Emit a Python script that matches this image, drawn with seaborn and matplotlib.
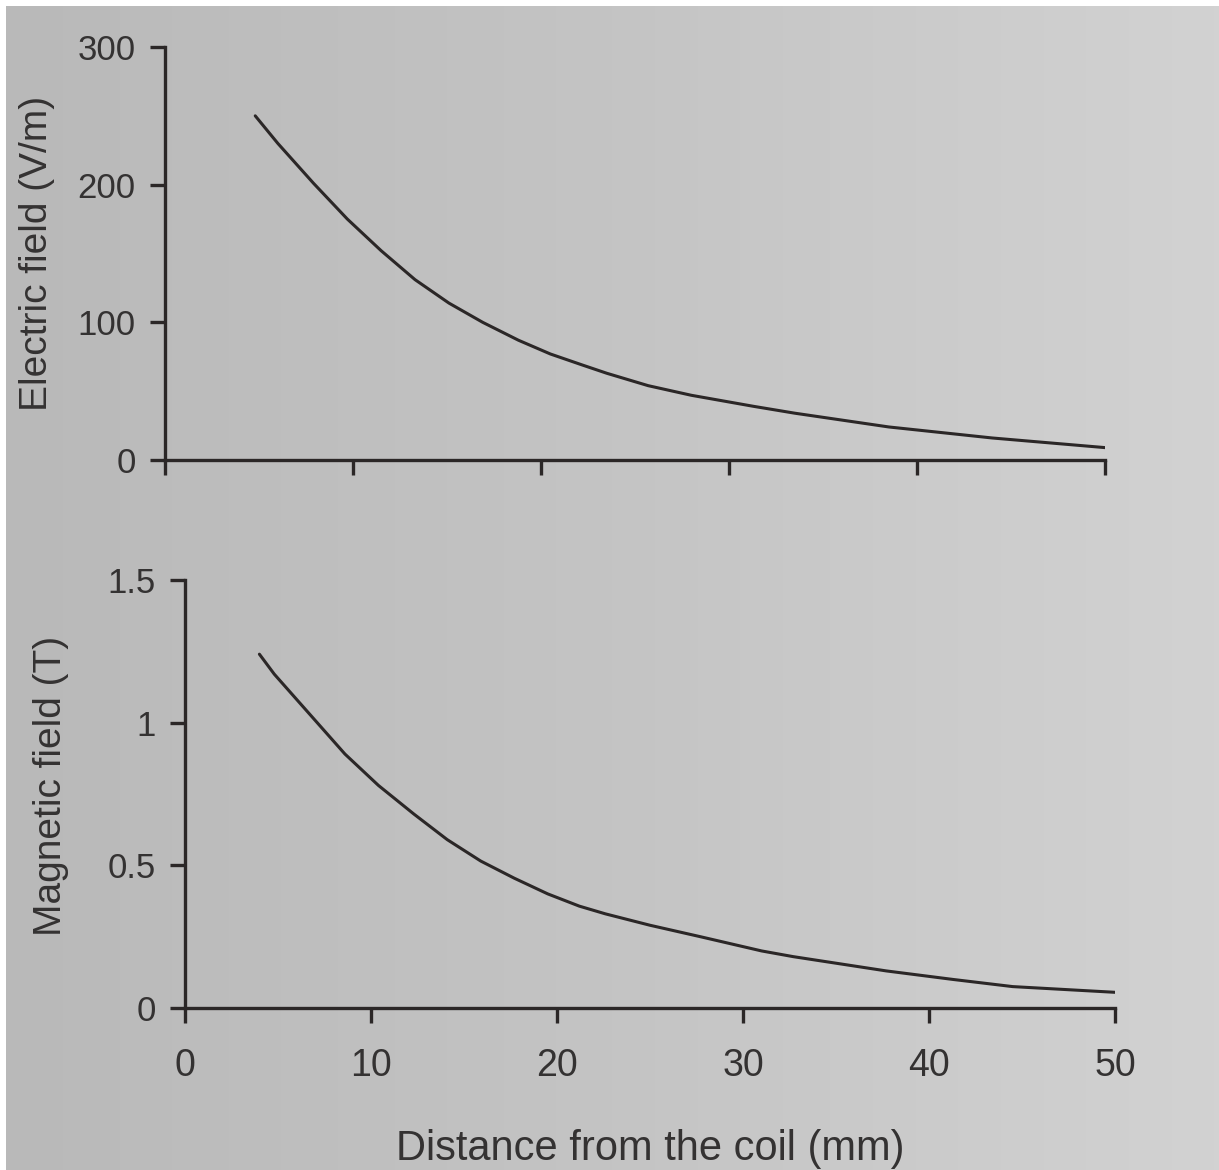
import numpy as np
import pandas as pd
import matplotlib
matplotlib.use("Agg")
import matplotlib.pyplot as plt
from matplotlib.colors import LinearSegmentedColormap
import seaborn as sns

# Electric field (V/m) versus distance from the coil (mm)
e_distance = [4.8, 6.0, 7.9, 9.7, 11.5, 13.3, 15.1, 16.9, 18.8, 20.5, 22.2, 23.5,
              25.7, 28.0, 31.3, 33.5, 38.5, 44.0, 50.0]
e_field = [250, 230, 201, 175, 152, 131, 114, 100, 87, 77, 69, 63,
           54, 47, 39, 34, 24, 16, 9]

# Magnetic field (T) versus distance from the coil (mm)
b_distance = [4.0, 4.8, 6.7, 8.6, 10.4, 12.3, 14.1, 15.9, 17.7, 19.5, 21.2, 22.6,
              25.0, 27.7, 31.0, 32.7, 37.7, 41.3, 44.5, 50.0]
b_field = [1.24, 1.17, 1.03, 0.89, 0.78, 0.68, 0.59, 0.515, 0.455, 0.40, 0.357, 0.33,
           0.29, 0.25, 0.20, 0.18, 0.13, 0.10, 0.075, 0.055]

x_ticks = [0, 10, 20, 30, 40, 50]
e_ticks = [0, 100, 200, 300]
b_ticks = [0, 0.5, 1, 1.5]
b_tick_labels = ["0", "0.5", "1", "1.5"]

e_df = pd.DataFrame({"distance": e_distance, "field": e_field})
b_df = pd.DataFrame({"distance": b_distance, "field": b_field})

sns.set_theme(style="ticks")
plt.rcParams["font.family"] = ["Liberation Sans Narrow", "Liberation Sans", "DejaVu Sans"]

ink = "#2b2727"
text_ink = "#343232"
W, H = 1219, 1170
fig = plt.figure(figsize=(W / 100, H / 100), dpi=100)
fig.patch.set_facecolor("white")

# page background: grey paper, slightly darker on the left
bg = fig.add_axes([6 / W, 0, 1 - 6 / W, 1 - 6 / H], zorder=-10)
grad = np.repeat(np.linspace(0, 1, 256)[None, :], 16, axis=0)
paper = LinearSegmentedColormap.from_list("paper", ["#b9b9b9", "#c4c4c4", "#d2d2d2"])
bg.imshow(grad, aspect="auto", cmap=paper, extent=[0, 1, 0, 1])
bg.set_axis_off()


def style_axes(ax):
    ax.set_facecolor("none")
    for side in ("top", "right"):
        ax.spines[side].set_visible(False)
    for side in ("left", "bottom"):
        ax.spines[side].set_color(ink)
        ax.spines[side].set_linewidth(2.4)
    ax.tick_params(axis="both", direction="out", length=11, width=2.4,
                   color=ink, labelcolor=text_ink, labelsize=25)
    ax.set_xlim(0, 50)
    ax.set_xticks(x_ticks)


# upper panel: electric field
ax1 = fig.add_axes([165 / W, 1 - 460 / H, 940 / W, 413 / H])
style_axes(ax1)
sns.lineplot(data=e_df, x="distance", y="field", ax=ax1, color=ink, linewidth=2.2)
ax1.set_ylim(0, 300)
ax1.set_yticks(e_ticks)
ax1.tick_params(axis="y", pad=10)
ax1.set_xticklabels([])
ax1.set_xlabel("")
ax1.set_ylabel("Electric field (V/m)", fontsize=28, color=text_ink)
ax1.yaxis.set_label_coords(-0.117, 0.50)

# lower panel: magnetic field
ax2 = fig.add_axes([185 / W, 1 - 1008 / H, 930 / W, 428 / H])
style_axes(ax2)
sns.lineplot(data=b_df, x="distance", y="field", ax=ax2, color=ink, linewidth=2.2)
ax2.set_ylim(0, 1.5)
ax2.set_yticks(b_ticks)
ax2.set_yticklabels(b_tick_labels)
ax2.tick_params(axis="y", pad=10)
ax2.tick_params(axis="x", pad=18, labelsize=27)
ax2.set_xlabel("Distance from the coil (mm)", fontsize=30, color=text_ink, labelpad=32)
ax2.set_ylabel("Magnetic field (T)", fontsize=28, color=text_ink)
ax2.yaxis.set_label_coords(-0.125, 0.52)

fig.savefig("out.png", dpi=100, facecolor=fig.get_facecolor())
